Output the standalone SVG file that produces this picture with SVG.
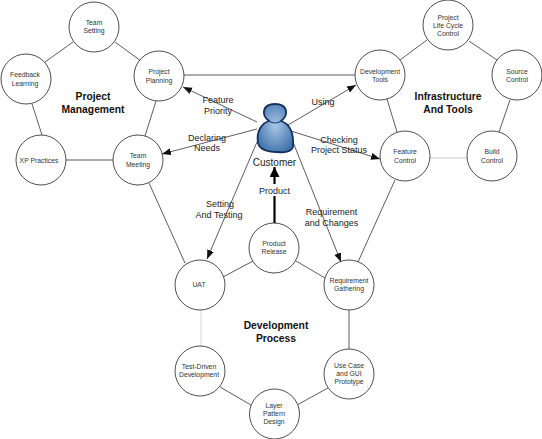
<svg xmlns="http://www.w3.org/2000/svg" width="542" height="439" viewBox="0 0 542 439">
<style>
text{font-family:"Liberation Sans",Arial,sans-serif;text-anchor:middle}
.n circle{fill:#fff;stroke:#222;stroke-width:.8}
.n text{font-size:6.8px;fill:#333}
.t{font-size:10.300px;font-weight:bold;fill:#111}
.l{font-size:9px;fill:#222}
.c line{stroke:#333;stroke-width:.8}
.a{marker-end:url(#ah)}
</style>
<defs>
<marker id="ah" markerUnits="userSpaceOnUse" markerWidth="10" markerHeight="8" refX="9" refY="3.500" orient="auto"><path d="M0 0L9 3.500L0 7Z" fill="#111"/></marker>
<marker id="ahb" markerUnits="userSpaceOnUse" markerWidth="11" markerHeight="11" refX="10" refY="5" orient="auto"><path d="M0 0L10 5L0 10Z" fill="#000"/></marker>
<radialGradient id="g" cx=".5" cy=".45" r=".6"><stop offset="0" stop-color="#a9c6e6"/><stop offset="1" stop-color="#3f73ad"/></radialGradient>
</defs>
<rect width="542" height="439" fill="#fff"/>
<g class="c" id="connectors">
<line x1="45" y1="62" x2="73" y2="42"/><line x1="115" y1="42" x2="141" y2="61"/>
<line x1="32" y1="104" x2="42" y2="135"/><line x1="66" y1="160" x2="113" y2="160"/>
<line x1="156" y1="101" x2="145" y2="136"/><line x1="184" y1="75" x2="355" y2="75"/>
<line x1="149" y1="183" x2="185" y2="263"/>
<line x1="400" y1="60" x2="427" y2="40"/><line x1="469" y1="41" x2="497" y2="60"/>
<line x1="387" y1="99" x2="397" y2="132"/><line x1="430" y1="158" x2="467" y2="158" style="stroke:#bbb"/>
<line x1="510" y1="100" x2="499" y2="132"/><line x1="395" y1="180" x2="358" y2="262"/>
<line x1="223" y1="277" x2="253" y2="261"/><line x1="296" y1="261" x2="325" y2="278"/>
<line x1="349" y1="310" x2="349" y2="349"/><line x1="328" y1="388" x2="297" y2="405"/>
<line x1="251" y1="405" x2="220" y2="387"/><line x1="201" y1="310" x2="201" y2="346" style="stroke:#ccc"/>
<line class="a" x1="257" y1="122" x2="183" y2="87"/><line class="a" x1="257" y1="129" x2="162" y2="154"/>
<line class="a" x1="257" y1="142" x2="207" y2="259"/><line class="a" x1="288" y1="125" x2="356" y2="85"/>
<line class="a" x1="291" y1="131" x2="380" y2="159"/><line class="a" x1="293" y1="142" x2="341" y2="262"/>
<line x1="274.500" y1="224" x2="274.500" y2="167" style="stroke:#000;stroke-width:2.2;marker-end:url(#ahb)"/>
</g>
<g class="n" id="team-setting"><circle cx="94" cy="27" r="25"/><text x="94" y="25">Team</text><text x="94" y="33">Setting</text></g>
<g class="n" id="feedback-learning"><circle cx="26" cy="79" r="25"/><text x="25" y="77">Feedback</text><text x="25" y="86">Learning</text></g>
<g class="n" id="project-planning"><circle cx="159" cy="76" r="25"/><text x="159" y="74">Project</text><text x="159" y="83">Planning</text></g>
<g class="n" id="xp-practices"><circle cx="41" cy="160" r="25"/><text x="39" y="163">XP Practices</text></g>
<g class="n" id="team-meeting"><circle cx="138" cy="160" r="25"/><text x="138" y="158">Team</text><text x="138" y="167">Meeting</text></g>
<g class="n" id="development-tools"><circle cx="380" cy="75" r="25"/><text x="380" y="74">Development</text><text x="380" y="82">Tools</text></g>
<g class="n" id="project-life-cycle-control"><circle cx="448" cy="25" r="25"/><text x="448" y="20">Project</text><text x="448" y="28">Life Cycle</text><text x="448" y="36">Control</text></g>
<g class="n" id="source-control"><circle cx="517" cy="75" r="25"/><text x="517" y="74">Source</text><text x="517" y="82">Control</text></g>
<g class="n" id="feature-control"><circle cx="405" cy="156" r="25"/><text x="405" y="154">Feature</text><text x="405" y="163">Control</text></g>
<g class="n" id="build-control"><circle cx="492" cy="156" r="25"/><text x="492" y="154">Build</text><text x="492" y="163">Control</text></g>
<g class="n" id="product-release"><circle cx="274" cy="248" r="25"/><text x="274" y="246">Product</text><text x="274" y="254">Release</text></g>
<g class="n" id="uat"><circle cx="200" cy="285" r="25"/><text x="199" y="287">UAT</text></g>
<g class="n" id="requirement-gathering"><circle cx="349" cy="285" r="25"/><text x="349" y="283">Requirement</text><text x="349" y="291">Gathering</text></g>
<g class="n" id="test-driven-development"><circle cx="200" cy="371" r="25"/><text x="199" y="369">Test-Driven</text><text x="199" y="377">Development</text></g>
<g class="n" id="use-case"><circle cx="349" cy="374" r="25"/><text x="349" y="368">Use Case</text><text x="349" y="376">and GUI</text><text x="349" y="384">Prototype</text></g>
<g class="n" id="layer-pattern-design"><circle cx="274.500" cy="414" r="25"/><text x="274" y="408">Layer</text><text x="274" y="416">Pattern</text><text x="274" y="424">Design</text></g>
<g id="customer">
<path d="M258 143C256 131 262 123 269 121C261 115 262 104 275 104C288 104 289 115 281 121C290 124 294 133 293 147C291 152 285 153 277 152C268 152 260 150 258 143Z" fill="url(#g)" stroke="#12305a" stroke-width="1.800"/>
<path d="M267 120Q275 126 283 120" fill="none" stroke="#1d4479" stroke-width="1"/>
<text class="l" x="274.500" y="166" style="font-size:10px">Customer</text>
</g>
<g id="labels">
<text class="t" x="93" y="100">Project</text><text class="t" x="93" y="113">Management</text>
<text class="t" x="448" y="100">Infrastructure</text><text class="t" x="448" y="113">And Tools</text>
<text class="t" x="276" y="329">Development</text><text class="t" x="276" y="342">Process</text>
<text class="l" x="218" y="103">Feature</text><text class="l" x="218" y="114">Priority</text>
<text class="l" x="207" y="141">Declaring</text><text class="l" x="207" y="151">Needs</text>
<text class="l" x="220" y="207">Setting</text><text class="l" x="219" y="218">And Testing</text>
<text class="l" x="323" y="105">Using</text>
<text class="l" x="339" y="143">Checking</text><text class="l" x="339" y="153">Project Status</text>
<text class="l" x="331.500" y="215">Requirement</text><text class="l" x="331.500" y="226">and Changes</text>
<rect x="256" y="184" width="37" height="12" fill="#fff"/>
<text class="l" x="274.500" y="194">Product</text>
</g>
</svg>
